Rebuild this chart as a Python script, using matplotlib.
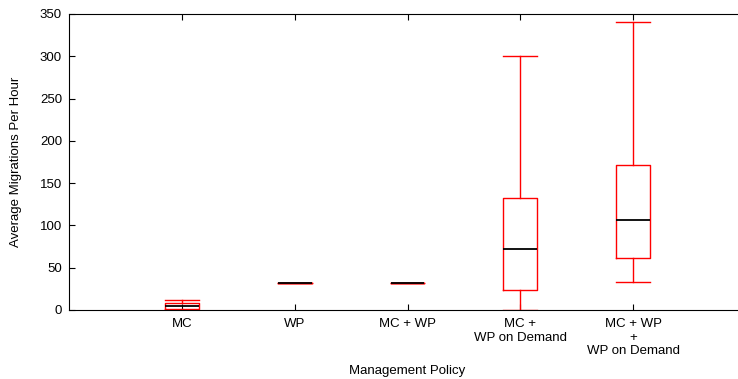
import matplotlib
matplotlib.use('Agg')
import matplotlib.pyplot as plt

plt.rcParams['font.family'] = ['Liberation Sans', 'DejaVu Sans']

# box summaries
policies = ['MC', 'WP', 'MC + WP', 'MC +\nWP on Demand', 'MC + WP\n+\nWP on Demand']
whislo = [0, 32, 32, 0, 33]
q1 = [1, 32, 32, 24, 61]
med = [5, 32, 32, 72, 107]
q3 = [8, 32, 32, 132, 172]
whishi = [12, 32, 32, 300, 341]

stats = []
for i, name in enumerate(policies):
    stats.append({'label': name, 'whislo': whislo[i], 'q1': q1[i], 'med': med[i],
                  'q3': q3[i], 'whishi': whishi[i], 'fliers': []})

fig = plt.figure(figsize=(7.38, 3.79), dpi=100)
ax = fig.add_axes([69 / 738, 69 / 379, 677 / 738, 296 / 379])

red = dict(color='#ff0000', linewidth=1)
ax.bxp(stats, positions=range(1, len(policies) + 1), widths=0.3,
       boxprops=red, whiskerprops=red, capprops=red,
       medianprops=dict(color='black', linewidth=1.3),
       showfliers=False, capwidths=0.3)

ax.set_xlim(0, 6)
ax.set_ylim(0, 350)
ax.set_yticks(range(0, 351, 50))
ax.spines['right'].set_visible(False)
ax.tick_params(direction='in', top=True, labelsize=9.5, length=4, pad=5)
ax.tick_params(axis='x', pad=6)
for lbl in ax.get_xticklabels():
    lbl.set_linespacing(1.15)
ax.set_xlabel('Management Policy', fontsize=9.5, labelpad=6)
ax.set_ylabel('Average Migrations Per Hour', fontsize=9.5, labelpad=13)

fig.savefig('out.png', dpi=100)
